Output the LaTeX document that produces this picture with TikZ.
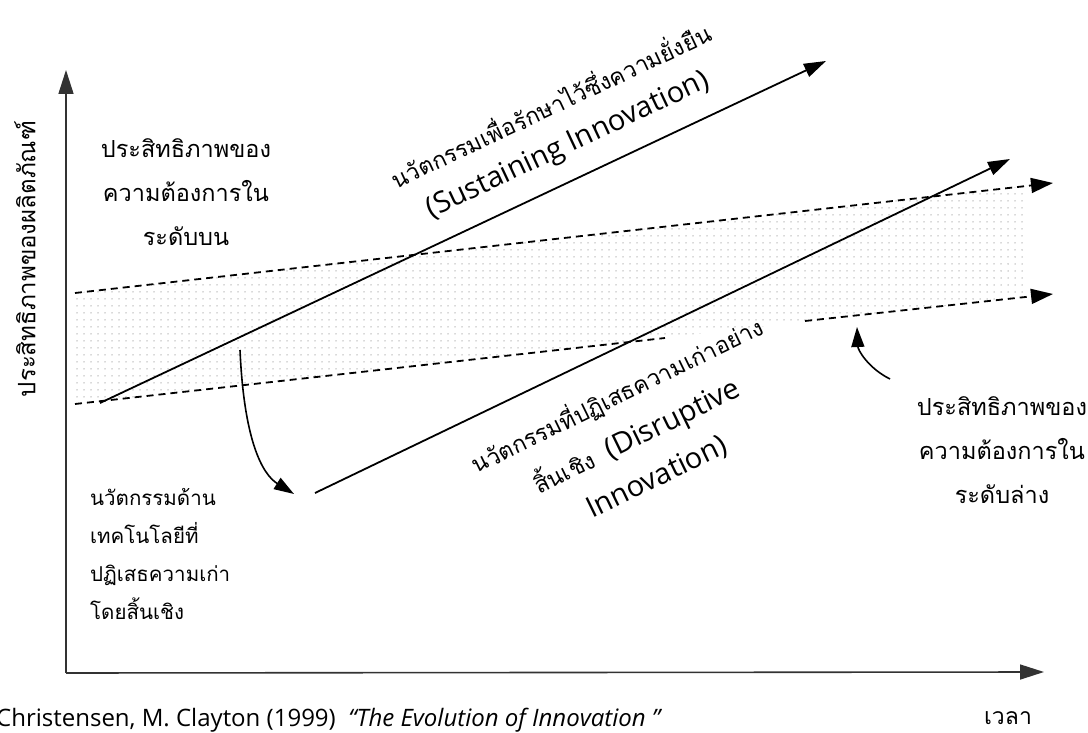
\documentclass[tikz,border=0pt]{standalone}
\usepackage{fontspec}
\setmainfont{Open Sans}
\newfontfamily\thai[Script=Thai]{Loma}
\usetikzlibrary{arrows.meta,patterns.meta}
\begin{document}
\begin{tikzpicture}[x=1pt,y=-1pt,
  axis/.style={line width=1.6pt,draw=black!80,-{Triangle[length=24pt,width=15pt]}},
  inno/.style={line width=1.8pt,-{Triangle[length=22pt,width=14pt]}},
  demand/.style={line width=1.8pt,dash pattern=on 7pt off 5pt},
  demandarrow/.style={demand,-{Triangle[length=22pt,width=15pt]}},
  curvearrow/.style={line width=1.6pt,-{Triangle[length=20pt,width=13pt]}},
  thtext/.style={font=\thai\fontsize{23.5}{44}\selectfont,align=center,inner sep=0pt},
  thleft/.style={font=\thai\fontsize{20.5}{38}\selectfont,align=left,inner sep=0pt},
  thsmall/.style={font=\thai\fontsize{23}{26}\selectfont,inner sep=0pt},
  entext/.style={font=\fontsize{29}{32}\selectfont,inner sep=0pt}]
\useasboundingbox (0,0) rectangle (1088,733);
% coordinates
\coordinate (O) at (66,673);
\coordinate (Ytip) at (66,70);
\coordinate (Xtip) at (1044,672);
\coordinate (U0) at (75,293);
\coordinate (U1) at (1053,183);
\coordinate (L0) at (75,404);
\coordinate (La) at (665,338);
\coordinate (Lb) at (805,321);
\coordinate (L1) at (1053,294);
\coordinate (S0) at (100,403);
\coordinate (S1) at (826,61);
\coordinate (D0) at (315,493);
\coordinate (D1) at (1010,159);
\coordinate (C0) at (240,350);
\coordinate (C1) at (294,494);
\coordinate (R0) at (890,379);
\coordinate (R1) at (857,327);
% shaded band
\fill[pattern={Dots[distance=7pt,radius=0.75pt]},pattern color=black!30]
  (75,293) -- (1025,186) -- (1025,297) -- (75,404) -- cycle;
% axes
\draw[axis] (O) -- (Ytip);
\draw[axis] (O) -- (Xtip);
% demand lines
\draw[demandarrow] (U0) -- (U1);
\draw[demand] (L0) -- (La);
\draw[demandarrow] (Lb) -- (L1);
% innovation arrows
\draw[inno] (S0) -- (S1);
\draw[inno] (D0) -- (D1);
% curved arrows
\draw[curvearrow] (C0) .. controls (244,440) and (262,474) .. (C1);
\draw[curvearrow] (R0) .. controls (868,368) and (858,350) .. (R1);
% labels
\node[rotate=90,inner sep=0pt] (ylab) at (25,259) {\thai\fontsize{24}{28}\selectfont ประสิทธิภาพของผลิตภัณฑ์};
\node[thtext] (upper) at (186,192) {ประสิทธิภาพของ\\ความต้องการใน\\ระดับบน};
\node[thtext] (lower) at (1002,450) {ประสิทธิภาพของ\\ความต้องการใน\\ระดับล่าง};
\node[thleft,anchor=west] (tech) at (90,554) {นวัตกรรมด้าน\\เทคโนโลยีที่\\ปฏิเสธความเก่า\\โดยสิ้นเชิง};
\node[thsmall,rotate=25.2] (sust1) at (550,104) {นวัตกรรมเพื่อรักษาไว้ซึ่งความยั่งยืน};
\node[entext,rotate=25.2] (sust2) at (568,146) {(Sustaining Innovation)};
\node[thsmall,rotate=26] (disr1) at (617,395) {นวัตกรรมที่ปฏิเสธความเก่าอย่าง};
\node[entext,rotate=26] (disr2) at (637,437) {{\thai\fontsize{23}{26}\selectfont สิ้นเชิง}\ \ (Disruptive};
\node[entext,rotate=26] (disr3) at (657,478) {Innovation)};
\node[anchor=base west,inner sep=0pt] (cite) at (-4,726) {\fontsize{24}{28}\selectfont Christensen, M. Clayton (1999)\ \ \textit{“The Evolution of Innovation ”}};
\node[inner sep=0pt] (time) at (1008,718) {\thai\fontsize{23}{26}\selectfont เวลา};
\end{tikzpicture}
\end{document}
